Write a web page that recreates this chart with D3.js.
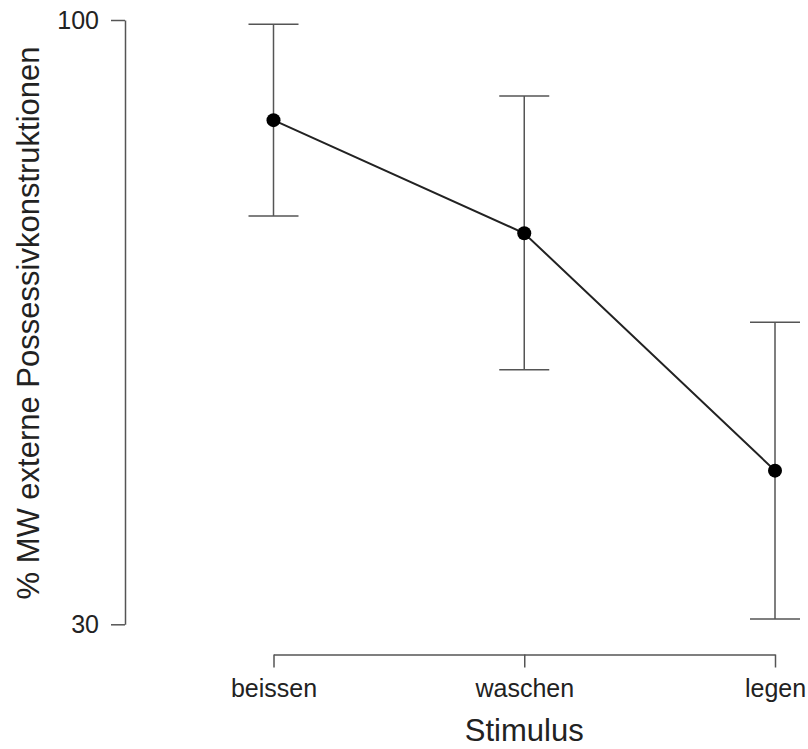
<!DOCTYPE html>
<html>
<head>
<meta charset="utf-8">
<script src="https://cdn.jsdelivr.net/npm/d3@7"></script>
<style>
    body { margin: 0; background: #fff; }
    svg text { font-family: "Liberation Sans", Arial, sans-serif; fill: #222; }
</style>
</head>
<body>
<div id="chart"></div>
<script>
// values
const categories = ['beissen', 'waschen', 'legen'];
const means = [88.4, 75.3, 47.8];
const lower = [77.3, 59.5, 30.6];
const upper = [99.5, 91.2, 65.0];
const yTicks = [30, 100];

const width = 808;
const height = 749;

const svg = d3.select('#chart')
    .append('svg')
    .attr('width', width)
    .attr('height', height);

const xScale = d3.scalePoint()
    .domain(categories)
    .range([273.5, 775]);
const yScale = d3.scaleLinear()
    .domain([30, 100])
    .range([624.3, 20]);

const axisColor = '#555';

// y axis
const yAxis = svg.append('g')
    .attr('transform', 'translate(125,0)')
    .call(d3.axisLeft(yScale).tickValues(yTicks).tickSize(14).tickSizeOuter(0).tickPadding(12));
yAxis.selectAll('path, line').attr('stroke', axisColor).attr('stroke-width', 1.5);
yAxis.selectAll('text').style('font-size', '25px').attr('fill', '#222');

// x axis
const xAxis = svg.append('g')
    .attr('transform', 'translate(0,654.5)')
    .call(d3.axisBottom(xScale).tickSize(13).tickSizeOuter(0).tickPadding(11.75));
xAxis.selectAll('path, line').attr('stroke', axisColor).attr('stroke-width', 1.5);
xAxis.selectAll('text').style('font-size', '25px').attr('fill', '#222');

// axis titles
svg.append('text')
    .attr('transform', 'translate(39,323) rotate(-90)')
    .attr('text-anchor', 'middle')
    .style('font-size', '31px')
    .text('% MW externe Possessivkonstruktionen');

svg.append('text')
    .attr('x', xScale('waschen'))
    .attr('y', 741)
    .attr('text-anchor', 'middle')
    .style('font-size', '31px')
    .text('Stimulus');

// error bars
const bars = svg.append('g')
    .attr('stroke', '#555')
    .attr('stroke-width', 1.5);
categories.forEach((c, i) => {
    const x = xScale(c);
    bars.append('line')
        .attr('x1', x).attr('x2', x)
        .attr('y1', yScale(lower[i])).attr('y2', yScale(upper[i]));
    [lower[i], upper[i]].forEach(v => {
        bars.append('line')
            .attr('x1', x - 25).attr('x2', x + 25)
            .attr('y1', yScale(v)).attr('y2', yScale(v));
    });
});

// mean line
const line = d3.line()
    .x((d, i) => xScale(categories[i]))
    .y(d => yScale(d));
svg.append('path')
    .datum(means)
    .attr('fill', 'none')
    .attr('stroke', '#222')
    .attr('stroke-width', 2)
    .attr('d', line);

svg.selectAll('circle')
    .data(means)
    .enter()
        .append('circle')
        .attr('cx', (d, i) => xScale(categories[i]))
        .attr('cy', d => yScale(d))
        .attr('r', 7)
        .attr('fill', '#000');
</script>
</body>
</html>
